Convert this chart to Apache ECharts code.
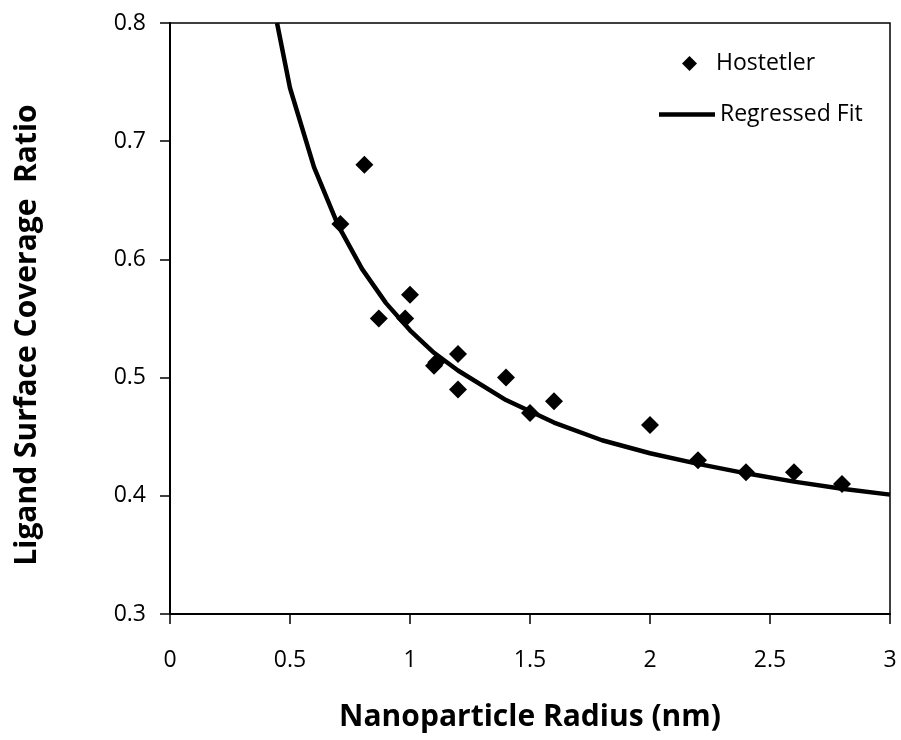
<!DOCTYPE html>
<html>
<head>
<meta charset="utf-8">
<script src="https://cdn.jsdelivr.net/npm/echarts@6/dist/echarts.min.js"></script>
<style>
html,body{margin:0;padding:0;background:#fff;}
#chart{width:901px;height:740px;}
</style>
</head>
<body>
<div id="chart"></div>
<script>
// Hostetler data points (radius nm, coverage ratio)
var hostX = [0.71, 0.81, 0.87, 0.98, 1.0, 1.1, 1.11, 1.2, 1.2, 1.4, 1.5, 1.6, 2.0, 2.2, 2.4, 2.6, 2.8];
var hostY = [0.63, 0.68, 0.55, 0.55, 0.57, 0.51, 0.513, 0.52, 0.49, 0.50, 0.47, 0.48, 0.46, 0.43, 0.42, 0.42, 0.41];

// Regressed fit curve
var fitX = [0.446, 0.5, 0.6, 0.7, 0.8, 0.9, 1.0, 1.1, 1.2, 1.4, 1.6, 1.8, 2.0, 2.2, 2.4, 2.6, 2.8, 3.0];
var fitY = [0.80, 0.745, 0.678, 0.629, 0.592, 0.563, 0.540, 0.521, 0.506, 0.481, 0.462, 0.447, 0.436, 0.427, 0.419, 0.412, 0.406, 0.401];

var xTicks = [0, 0.5, 1, 1.5, 2, 2.5, 3];
var yTicks = [0.3, 0.4, 0.5, 0.6, 0.7, 0.8];

var seriesNames = ['Hostetler', 'Regressed Fit'];
var xTitle = 'Nanoparticle Radius (nm)';
var yTitle = 'Ligand Surface Coverage  Ratio';

var FONT = '"Open Sans", "Noto Sans", sans-serif';

function zip(a, b) { return a.map(function (v, i) { return [v, b[i]]; }); }

var legendText = {fontFamily: FONT, fontSize: 23, color: '#000'};

var chart = echarts.init(document.getElementById('chart'), null, {renderer: 'canvas'});
chart.setOption({
  backgroundColor: '#ffffff',
  animation: false,
  grid: {
    left: 170, right: 11, top: 23, bottom: 126,
    show: true, borderColor: '#000', borderWidth: 1.5, backgroundColor: 'transparent'
  },
  legend: [
    {
      data: [{name: seriesNames[0], icon: 'diamond'}],
      left: 677, top: 47,
      itemWidth: 15, itemHeight: 15,
      textStyle: Object.assign({padding: [0, 0, 0, 14]}, legendText)
    },
    {
      data: [{name: seriesNames[1], icon: 'rect'}],
      left: 654, top: 98,
      itemWidth: 56, itemHeight: 4.5,
      itemStyle: {color: '#000', borderWidth: 0},
      textStyle: Object.assign({padding: [0, 0, 0, 0]}, legendText)
    }
  ],
  xAxis: {
    type: 'value', min: 0, max: 3, interval: 0.5,
    axisLine: {show: true, lineStyle: {color: '#000', width: 2}},
    axisTick: {show: true, inside: false, length: 10, lineStyle: {color: '#000', width: 1.5}},
    splitLine: {show: false},
    axisLabel: {
      margin: 35, color: '#000', fontFamily: FONT, fontSize: 23,
      formatter: function (v) { return xTicks.indexOf(+v.toFixed(2)) >= 0 ? String(+v.toFixed(2)) : ''; }
    },
    name: xTitle, nameLocation: 'middle', nameGap: 88,
    nameTextStyle: {fontFamily: FONT, fontWeight: 'bold', fontSize: 30, color: '#000'}
  },
  yAxis: {
    type: 'value', min: 0.3, max: 0.8, interval: 0.1,
    axisLine: {show: true, lineStyle: {color: '#000', width: 2}},
    axisTick: {show: true, inside: false, length: 10, lineStyle: {color: '#000', width: 1.5}},
    splitLine: {show: false},
    axisLabel: {
      margin: 24, color: '#000', fontFamily: FONT, fontSize: 23,
      formatter: function (v) { return (+v).toFixed(1); }
    },
    name: yTitle, nameLocation: 'middle', nameGap: 128, nameRotate: 90,
    nameTextStyle: {fontFamily: FONT, fontWeight: 'bold', fontSize: 30, color: '#000', padding: [0, 0, 0, -33]}
  },
  series: [
    {
      name: seriesNames[0], type: 'scatter', symbol: 'diamond', symbolSize: 18,
      itemStyle: {color: '#000', opacity: 1}, data: zip(hostX, hostY), z: 3
    },
    {
      name: seriesNames[1], type: 'line', symbol: 'none', showSymbol: false, smooth: false,
      lineStyle: {color: '#000', width: 4.5}, itemStyle: {color: '#000'},
      data: zip(fitX, fitY), z: 2, clip: true
    }
  ]
});
</script>
</body>
</html>
